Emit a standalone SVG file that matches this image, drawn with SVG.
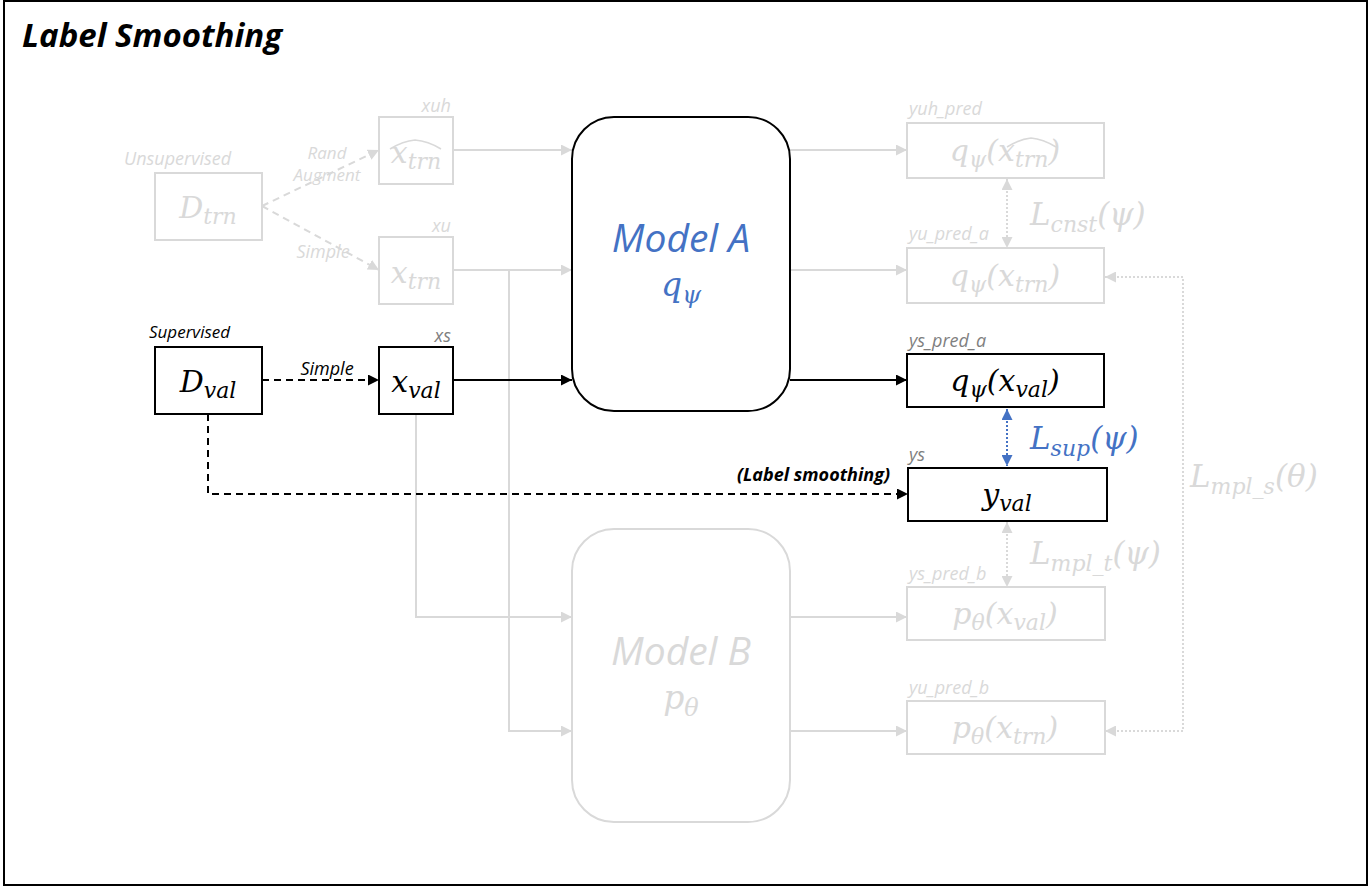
<svg xmlns="http://www.w3.org/2000/svg" width="1370" height="888" viewBox="0 0 1370 888">
<defs>
<style>
.frame{fill:#fff;stroke:#000;stroke-width:2}
.bx{fill:#fff;stroke:#000;stroke-width:2}
.gbx{fill:#fff;stroke:#d9d9d9;stroke-width:2}
.math{font-family:"DejaVu Serif","Liberation Serif",serif;font-style:italic}
.lbl{font-family:"Open Sans","Noto Sans",sans-serif;font-style:italic}
.cap{font-family:"Open Sans","Noto Sans",sans-serif;font-style:italic;font-size:18px;fill:#7f7f7f}
.gcap{font-family:"Open Sans","Noto Sans",sans-serif;font-style:italic;font-size:18px;fill:#d9d9d9}
.ln{fill:none;stroke:#000;stroke-width:2}
.gln{fill:none;stroke:#d9d9d9;stroke-width:2}
.dash{stroke-dasharray:7 5}
.dot{stroke-dasharray:2 2}
</style>
<marker id="ab" viewBox="0 0 10 10" refX="10" refY="5" markerWidth="11" markerHeight="11" markerUnits="userSpaceOnUse" orient="auto-start-reverse"><path d="M0,0 L10,5 L0,10 z" fill="#000"/></marker>
<marker id="ag" viewBox="0 0 10 10" refX="10" refY="5" markerWidth="11" markerHeight="11" markerUnits="userSpaceOnUse" orient="auto-start-reverse"><path d="M0,0 L10,5 L0,10 z" fill="#d9d9d9"/></marker>
<marker id="au" viewBox="0 0 10 10" refX="10" refY="5" markerWidth="11" markerHeight="11" markerUnits="userSpaceOnUse" orient="auto-start-reverse"><path d="M0,0 L10,5 L0,10 z" fill="#4472c4"/></marker>
</defs>
<rect class="frame" x="4" y="1" width="1363" height="884"/>
<text x="22" y="47" font-family="'Open Sans','Noto Sans',sans-serif" font-style="italic" font-weight="bold" font-size="33" fill="#000">Label Smoothing</text>

<g id="connectors">
<path class="gln dash" d="M262,206 L379,150" marker-end="url(#ag)"/>
<path class="gln dash" d="M262,206 L379,270" marker-end="url(#ag)"/>
<path class="gln" d="M453,150 L572,150" marker-end="url(#ag)"/>
<path class="gln" d="M453,270 L572,270" marker-end="url(#ag)"/>
<path class="gln" d="M509,270 L509,731 L572,731" marker-end="url(#ag)"/>
<path class="gln" d="M416,414 L416,617 L572,617" marker-end="url(#ag)"/>
<path class="ln" d="M453,380 L572,380" marker-end="url(#ab)"/>
<path class="ln dash" d="M262,380 L379,380" marker-end="url(#ab)"/>
<path class="ln dash" d="M208,414 L208,494 L908,494" marker-end="url(#ab)"/>
<path class="gln" d="M790,150 L907,150" marker-end="url(#ag)"/>
<path class="gln" d="M790,270 L907,270" marker-end="url(#ag)"/>
<path class="ln" d="M790,380 L907,380" marker-end="url(#ab)"/>
<path class="gln" d="M790,617 L907,617" marker-end="url(#ag)"/>
<path class="gln" d="M790,731 L907,731" marker-end="url(#ag)"/>
<path class="gln dot" d="M1007,179 L1007,248" marker-start="url(#ag)" marker-end="url(#ag)"/>
<path fill="none" stroke="#4472c4" stroke-width="2" class="dot" d="M1007,409 L1007,466" marker-start="url(#au)" marker-end="url(#au)"/>
<path class="gln dot" d="M1007,522 L1007,587" marker-start="url(#ag)" marker-end="url(#ag)"/>
<path class="gln dot" d="M1105,277 L1183,277 L1183,731 L1105,731" marker-start="url(#ag)" marker-end="url(#ag)"/>
<g class="lbl" font-size="17" fill="#d9d9d9">
<text x="327" y="159" text-anchor="middle">Rand</text>
<text x="327" y="181" text-anchor="middle">Augment</text>
<text x="323" y="258" text-anchor="middle" font-size="18">Simple</text>
</g>
<text class="lbl" x="327" y="375" text-anchor="middle" font-size="18" fill="#000">Simple</text>
<text class="lbl" x="890" y="481" text-anchor="end" font-size="18" font-weight="bold" fill="#000">(Label smoothing)</text>
<text class="math" x="1030" y="225" font-size="31" fill="#d9d9d9">L<tspan font-size="22" dy="7">cnst</tspan><tspan dy="-7">(ψ)</tspan></text>
<text class="math" x="1030" y="449" font-size="31" fill="#4472c4">L<tspan font-size="22" dy="7">sup</tspan><tspan dy="-7">(ψ)</tspan></text>
<text class="math" x="1030" y="564" font-size="31" fill="#d9d9d9">L<tspan font-size="22" dy="7">mpl_t</tspan><tspan dy="-7">(ψ)</tspan></text>
<text class="math" x="1190" y="487" font-size="31" fill="#d9d9d9">L<tspan font-size="22" dy="7">mpl_s</tspan><tspan dy="-7">(θ)</tspan></text>
</g>

<g id="d_trn">
<text class="lbl" x="124" y="165" font-size="18" fill="#d9d9d9">Unsupervised</text>
<rect class="gbx" x="155" y="173" width="107" height="67"/>
<text class="math" x="208" y="218" text-anchor="middle" font-size="30" fill="#d9d9d9">D<tspan font-size="22" dy="6">trn</tspan></text>
</g>
<g id="xuh">
<text class="gcap" x="451" y="112" text-anchor="end">xuh</text>
<rect class="gbx" x="379" y="117" width="74" height="67"/>
<text class="math" x="416" y="163" text-anchor="middle" font-size="30" fill="#d9d9d9">x<tspan font-size="22" dy="6">trn</tspan></text>
<path d="M390,149 Q403,141 415,140 Q428,141 441,149" fill="none" stroke="#d9d9d9" stroke-width="1.5"/>
</g>
<g id="xu">
<text class="gcap" x="451" y="232" text-anchor="end">xu</text>
<rect class="gbx" x="379" y="237" width="74" height="67"/>
<text class="math" x="416" y="283" text-anchor="middle" font-size="30" fill="#d9d9d9">x<tspan font-size="22" dy="6">trn</tspan></text>
</g>
<g id="d_val">
<text class="lbl" x="149" y="338" font-size="17" fill="#000">Supervised</text>
<rect class="bx" x="155" y="347" width="107" height="67"/>
<text class="math" x="208" y="392" text-anchor="middle" font-size="30" fill="#000">D<tspan font-size="22" dy="6">val</tspan></text>
</g>
<g id="xs">
<text class="cap" x="451" y="342" text-anchor="end">xs</text>
<rect class="bx" x="379" y="347" width="74" height="67"/>
<text class="math" x="416" y="392" text-anchor="middle" font-size="30" fill="#000">x<tspan font-size="22" dy="6">val</tspan></text>
</g>
<g id="model_a">
<rect class="bx" x="572" y="117" width="218" height="294" rx="42"/>
<text class="lbl" x="681" y="252" text-anchor="middle" font-size="39" fill="#4472c4">Model A</text>
<text class="math" x="681" y="296" text-anchor="middle" font-size="33" fill="#4472c4">q<tspan font-size="24" dy="7">ψ</tspan></text>
</g>
<g id="model_b">
<rect class="gbx" x="572" y="529" width="218" height="293" rx="42"/>
<text class="lbl" x="681" y="665" text-anchor="middle" font-size="39" fill="#d9d9d9">Model B</text>
<text class="math" x="681" y="709" text-anchor="middle" font-size="33" fill="#d9d9d9">p<tspan font-size="24" dy="7">θ</tspan></text>
</g>
<g id="yuh_pred">
<text class="gcap" x="909" y="115">yuh_pred</text>
<rect class="gbx" x="907" y="123" width="197" height="55"/>
<text class="math" x="1005" y="161" text-anchor="middle" font-size="30" fill="#d9d9d9">q<tspan font-size="22" dy="6">ψ</tspan><tspan dy="-6">(x</tspan><tspan font-size="22" dy="6">trn</tspan><tspan dy="-6">)</tspan></text>
<path d="M1007,147 Q1020,139 1031,138 Q1043,139 1056,147" fill="none" stroke="#d9d9d9" stroke-width="1.5"/>
</g>
<g id="yu_pred_a">
<text class="gcap" x="909" y="240">yu_pred_a</text>
<rect class="gbx" x="907" y="248" width="197" height="55"/>
<text class="math" x="1005" y="286" text-anchor="middle" font-size="30" fill="#d9d9d9">q<tspan font-size="22" dy="6">ψ</tspan><tspan dy="-6">(x</tspan><tspan font-size="22" dy="6">trn</tspan><tspan dy="-6">)</tspan></text>
</g>
<g id="ys_pred_a">
<text class="cap" x="909" y="347">ys_pred_a</text>
<rect class="bx" x="907" y="354" width="197" height="53"/>
<text class="math" x="1005" y="391" text-anchor="middle" font-size="30" fill="#000">q<tspan font-size="22" dy="6">ψ</tspan><tspan dy="-6">(x</tspan><tspan font-size="22" dy="6">val</tspan><tspan dy="-6">)</tspan></text>
</g>
<g id="ys">
<text class="cap" x="909" y="461">ys</text>
<rect class="bx" x="908" y="468" width="199" height="53"/>
<text class="math" x="1007" y="505" text-anchor="middle" font-size="30" fill="#000">y<tspan font-size="22" dy="6">val</tspan></text>
</g>
<g id="ys_pred_b">
<text class="gcap" x="909" y="580">ys_pred_b</text>
<rect class="gbx" x="907" y="587" width="198" height="53"/>
<text class="math" x="1005" y="624" text-anchor="middle" font-size="30" fill="#d9d9d9">p<tspan font-size="22" dy="6">θ</tspan><tspan dy="-6">(x</tspan><tspan font-size="22" dy="6">val</tspan><tspan dy="-6">)</tspan></text>
</g>
<g id="yu_pred_b">
<text class="gcap" x="909" y="694">yu_pred_b</text>
<rect class="gbx" x="907" y="701" width="198" height="53"/>
<text class="math" x="1005" y="738" text-anchor="middle" font-size="30" fill="#d9d9d9">p<tspan font-size="22" dy="6">θ</tspan><tspan dy="-6">(x</tspan><tspan font-size="22" dy="6">trn</tspan><tspan dy="-6">)</tspan></text>
</g>
</svg>
